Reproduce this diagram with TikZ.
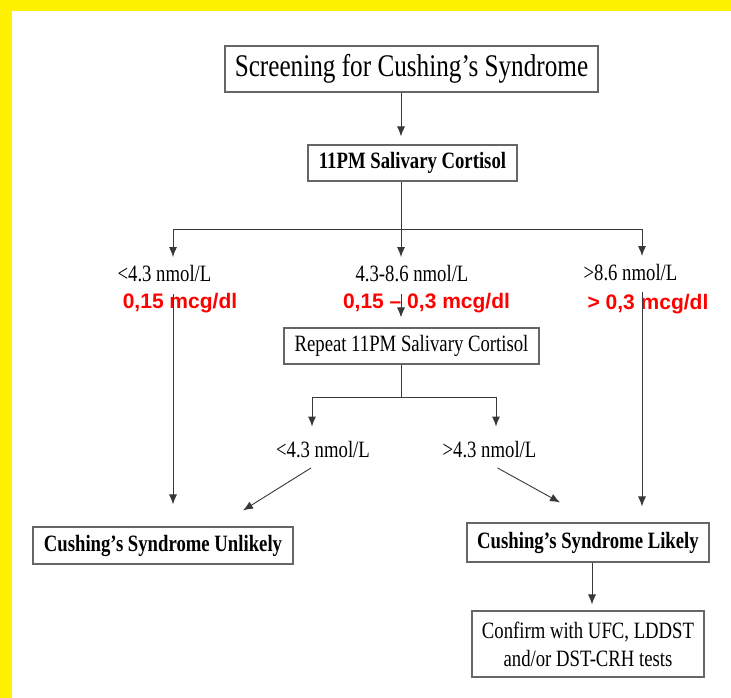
\documentclass[tikz,border=0pt]{standalone}
\usepackage{fontspec}
\setmainfont{Liberation Serif}[FakeStretch=0.8]
\newfontfamily\redsans{Liberation Sans}
\usetikzlibrary{arrows.meta}

\begin{document}
\begin{tikzpicture}
  [x=1pt, y=-1pt, line width=0.9pt,
   box/.style={draw=black!60, line width=1.1pt, inner sep=0pt, font=\fontsize{23.4}{27}\selectfont},
   bold/.style={font=\fontsize{23.4}{27}\selectfont\bfseries},
   lab/.style={inner sep=2pt, text height=16pt, text depth=5pt, font=\fontsize{23.4}{27}\selectfont},
   val/.style={text=red, inner sep=0pt, font=\redsans\bfseries\fontsize{21}{25}\selectfont},
   link/.style={draw=black!78},
   arr/.style={-{Latex[length=10pt,width=8pt]}, shorten >=6pt}]
  \fill[yellow] (0,0) rectangle (731,11);
  \fill[yellow] (0,0) rectangle (12,698);
  \useasboundingbox (0,0) rectangle (731,698);

  \node[box, minimum width=373pt, minimum height=46pt, font=\fontsize{31.5}{36}\selectfont] (screen) at (411.5,69) {Screening for Cushing's Syndrome};
  \node[box, bold, minimum width=209pt, minimum height=36pt] (saliva) at (412.5,163) {11PM Salivary Cortisol};
  \node[lab] (lowA) at (164.5,276) {<4.3 nmol/L};
  \node[lab] (midA) at (412,276) {4.3-8.6 nmol/L};
  \node[lab] (highA) at (630.5,275) {>8.6 nmol/L};
  \node[val] (lowV) at (180,303) {0,15 mcg/dl};
  \node[val] (midV) at (426.5,303) {0,15 – 0,3 mcg/dl};
  \node[val] (highV) at (648,304) {> 0,3 mcg/dl};
  \node[box, minimum width=255pt, minimum height=36pt] (again) at (411.5,346) {Repeat 11PM Salivary Cortisol};
  \node[lab] (lowB) at (323,452) {<4.3 nmol/L};
  \node[lab] (highB) at (489.5,452) {>4.3 nmol/L};
  \node[box, bold, minimum width=260pt, minimum height=37pt] (unlikely) at (163,545.5) {Cushing's Syndrome Unlikely};
  \node[box, bold, minimum width=242pt, minimum height=39pt] (likely) at (588,542.5) {Cushing's Syndrome Likely};
  \node[box, minimum width=232pt, minimum height=66pt, align=center, font=\fontsize{23.4}{28}\selectfont] (confirm) at (588,644) {Confirm with UFC, LDDST\\and/or DST-CRH tests};

  \coordinate (xl) at (173,229);
  \coordinate (xm) at (401,229);
  \coordinate (xr) at (642,229);
  \draw[link, arr, shorten >=8pt] (screen.south -| xm) -- (saliva.north -| xm);
  \draw[link] (saliva.south -| xm) -- (xm) (xl) -- (xr);
  \draw[link, arr] (xl) -- (lowA.north -| xl);
  \draw[link, arr] (xm) -- (midA.north -| xm);
  \draw[link, arr] (xr) -- (highA.north -| xr);
  \draw[link, arr, shorten <=5pt, shorten >=22pt] (lowA.south -| xl) -- (unlikely.north -| xl);
  \draw[link, arr, shorten <=5pt, shorten >=10pt] (midA.south -| xm) -- (again.north -| xm);
  \draw[link, arr, shorten <=4pt, shorten >=16pt] (highA.south -| xr) -- (likely.north -| xr);

  \coordinate (ym) at (401,397);
  \coordinate (yl) at (312,397);
  \coordinate (yr) at (496,397);
  \draw[link] (again.south -| ym) -- (ym) (yl) -- (yr);
  \draw[link, arr, shorten >=12.5pt] (yl) -- (lowB.north -| yl);
  \draw[link, arr, shorten >=12.5pt] (yr) -- (highB.north -| yr);
  \draw[link, arr, shorten >=0pt] ([xshift=-12pt,yshift=-3pt]lowB.south) -- ([xshift=80pt,yshift=16pt]unlikely.north);
  \draw[link, arr, shorten >=0pt] ([xshift=8pt,yshift=-3pt]highB.south) -- ([xshift=-28pt,yshift=20pt]likely.north);
  \draw[link, arr] ([xshift=4pt]likely.south) -- ([xshift=4pt]confirm.north);
\end{tikzpicture}
\end{document}
